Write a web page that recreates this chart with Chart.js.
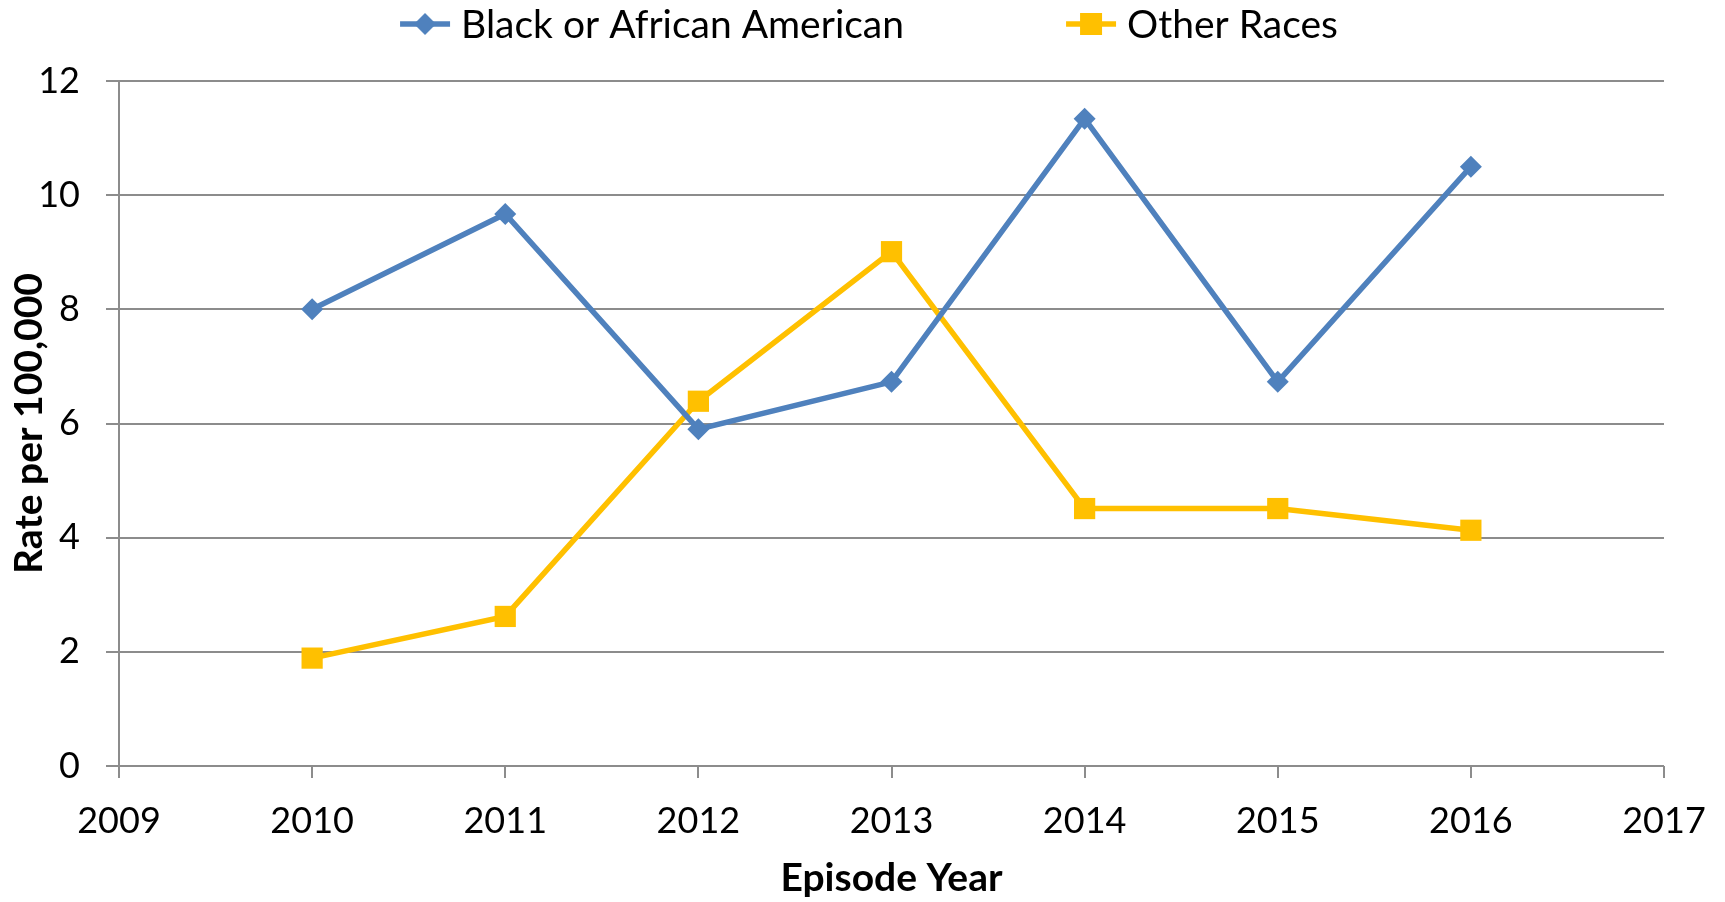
<!DOCTYPE html>
<html lang="en">
  <head>
    <meta charset="UTF-8" />
    <title>Rate per 100,000 by Episode Year</title>
    <script src="https://cdn.jsdelivr.net/npm/chart.js"></script>
    <style>
      html,
      body {
        margin: 0;
        padding: 0;
        background: #fff;
      }
      .wrap {
        width: 1725px;
        height: 902px;
      }
    </style>
  </head>
  <body>
    <div class="wrap"><canvas id="rateChart"></canvas></div>

    <script>
      const years = [2010, 2011, 2012, 2013, 2014, 2015, 2016];
      const blackRates = [8.0, 9.67, 5.9, 6.73, 11.34, 6.73, 10.5];
      const otherRates = [1.89, 2.62, 6.39, 9.01, 4.51, 4.51, 4.13];
      const xMin = 2009;
      const xMax = 2017;
      const yMax = 12;

      const BLUE = "#4F81BD";
      const GOLD = "#FFC000";
      const GRID = "#8c8c8c";
      const FONT = "Lato, 'Open Sans', sans-serif";

      const toPoints = (vals) => vals.map((v, i) => ({ x: years[i], y: v }));

      // line + marker swatch for the legend
      function swatch(ds) {
        const c = document.createElement("canvas");
        c.width = 54;
        c.height = 28;
        const g = c.getContext("2d");
        g.strokeStyle = ds.borderColor;
        g.fillStyle = ds.borderColor;
        g.lineWidth = 5.5;
        g.beginPath();
        g.moveTo(2, 14);
        g.lineTo(52, 14);
        g.stroke();
        g.beginPath();
        if (ds.pointStyle === "rectRot") {
          g.moveTo(27, 3);
          g.lineTo(38, 14);
          g.lineTo(27, 25);
          g.lineTo(16, 14);
        } else {
          g.rect(16, 3, 22, 22);
        }
        g.fill();
        return c;
      }

      const topLegend = {
        id: "topLegend",
        afterDraw(chart) {
          const ctx = chart.ctx;
          const sets = chart.data.datasets;
          ctx.save();
          ctx.font = "39px " + FONT;
          ctx.textBaseline = "middle";
          ctx.fillStyle = "#000";
          const gapText = 9;
          const gapItem = 160;
          const widths = sets.map((ds) => 54 + gapText + ctx.measureText(ds.label).width);
          const total = widths.reduce((a, b) => a + b, 0) + gapItem * (sets.length - 1);
          let x = 868 - total / 2;
          const y = 24;
          sets.forEach((ds, i) => {
            ctx.drawImage(swatch(ds), x, y - 14);
            ctx.fillText(ds.label, x + 54 + gapText, y + 1);
            x += widths[i] + gapItem;
          });
          ctx.restore();
        },
      };

      const ctx = document.getElementById("rateChart").getContext("2d");

      new Chart(ctx, {
        type: "line",
        data: {
          datasets: [
            {
              label: "Black or African American",
              data: toPoints(blackRates),
              borderColor: BLUE,
              backgroundColor: BLUE,
              borderWidth: 5.5,
              pointStyle: "rectRot",
              pointRadius: 11,
              pointHoverRadius: 11,
              pointBorderWidth: 0,
              tension: 0,
            },
            {
              label: "Other Races",
              data: toPoints(otherRates),
              borderColor: GOLD,
              backgroundColor: GOLD,
              borderWidth: 5.5,
              pointStyle: "rect",
              pointRadius: 15,
              pointHoverRadius: 15,
              pointBorderWidth: 0,
              tension: 0,
            },
          ],
        },
        options: {
          responsive: true,
          maintainAspectRatio: false,
          animation: false,
          layout: { padding: { top: 81, right: 61, left: 0, bottom: 0 } },
          scales: {
            x: {
              type: "linear",
              min: xMin,
              max: xMax,
              afterFit: (s) => {
                s.height = 136;
                s.paddingLeft = 0;
                s.paddingRight = 0;
              },
              ticks: {
                stepSize: 1,
                color: "#000",
                font: { family: FONT, size: 36 },
                padding: 22,
                maxRotation: 0,
                callback: (v) => String(v),
              },
              grid: {
                drawOnChartArea: false,
                drawTicks: true,
                tickLength: 12,
                color: GRID,
                lineWidth: 2,
              },
              border: { display: false },
              title: {
                display: true,
                text: "Episode Year",
                color: "#000",
                font: { family: FONT, size: 39, weight: "bold" },
                padding: { top: 0, bottom: 0 },
              },
            },
            y: {
              min: 0,
              max: yMax,
              afterFit: (s) => {
                s.width = 119;
              },
              ticks: {
                stepSize: 2,
                color: "#000",
                font: { family: FONT, size: 36 },
                padding: 26,
              },
              grid: {
                color: GRID,
                lineWidth: 2,
                tickLength: 13,
              },
              border: { display: true, color: GRID, width: 2 },
              title: {
                display: true,
                text: "Rate per 100,000",
                color: "#000",
                font: { family: FONT, size: 39, weight: "bold" },
                padding: { top: 6, bottom: 0 },
              },
            },
          },
          plugins: {
            legend: { display: false },
            tooltip: { enabled: false },
          },
        },
        plugins: [topLegend],
      });
    </script>
  </body>
</html>
